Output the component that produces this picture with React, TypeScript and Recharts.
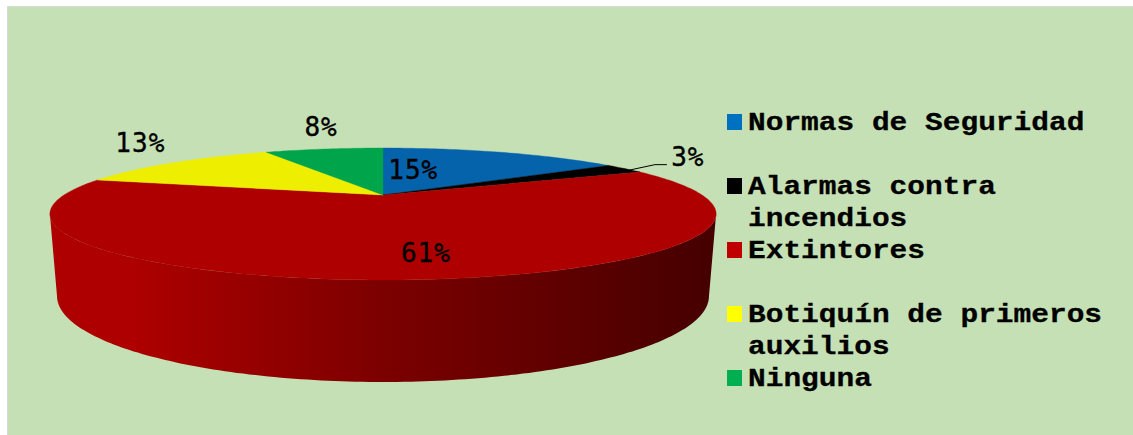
import { PieChart, Pie, Legend } from 'recharts';

const CATEGORIES = ['Normas de Seguridad', 'Alarmas contra incendios', 'Extintores', 'Botiquín de primeros auxilios', 'Ninguna'];
// read from the slice boundaries, the labels show them rounded
const VALUES = [15.4, 2.6, 61.3, 13.1, 7.6];
const SLICE_COLORS = ['#0563AB', '#000000', '#AE0000', '#EEEE00', '#00A44A'];
const LEGEND_COLORS = ['#0070C0', '#000000', '#C00000', '#FFFF00', '#00B050'];

// label position relative to the rim midpoint of each slice
const LABEL_NUDGE = [[-88, 18], [63, -12], [5, -27], [-33, -20], [-3, -22]];

const tableData = CATEGORIES.map((name, i) => ({ name, value: VALUES[i], fill: SLICE_COLORS[i] }));

// the circle seen in perspective: top face and bottom rim of the disc
const TOP = { cy: 195, R: 319, b: 60.5, k: 0.288 };
const BOTTOM = { cy: 274.5, R: 315.6, b: 80.6, k: 0.25 };
type Face = typeof TOP;

function project(face: Face, cx: number, clockDeg: number) {
  const a = (clockDeg * Math.PI) / 180;
  const x = Math.sin(a);
  const y = -Math.cos(a);
  const d = 1 - face.k * y;
  return [cx + (face.R * x) / d, face.cy + (face.b * y) / d];
}

// recharts angles run counter clockwise from 3 o'clock
const toClock = (deg: number) => 90 - deg;
const pt = (p: number[]) => `${p[0].toFixed(1)},${p[1].toFixed(1)}`;

function TopSlice(props: any) {
  const { cx, startAngle, endAngle, fill } = props;
  const from = toClock(startAngle);
  const to = toClock(endAngle);
  const steps = Math.max(2, Math.ceil(Math.abs(to - from)));
  const pts: string[] = [];
  for (let i = 0; i <= steps; i++) pts.push(pt(project(TOP, cx, from + ((to - from) * i) / steps)));
  return <path d={`M${cx},${TOP.cy} L${pts.join(' L')} Z`} fill={fill} stroke={fill} strokeWidth={0.4} />;
}

// side wall, only the part of a slice that faces the viewer
const extreme = (face: Face) => (Math.asin(face.k) * 180) / Math.PI;

function WallSlice(props: any) {
  const { cx, startAngle, endAngle } = props;
  const from = toClock(startAngle);
  const to = toClock(endAngle);
  const topA = 90 + extreme(TOP);
  const topB = 270 - extreme(TOP);
  const botA = 90 + extreme(BOTTOM);
  const botB = 270 - extreme(BOTTOM);
  if (to <= topA || from >= topB) return <g />;
  const s = Math.max(from, topA);
  const e = Math.min(to, topB);
  const upper: string[] = [];
  const lower: string[] = [];
  const steps = 160;
  for (let i = 0; i <= steps; i++) {
    const t = i / steps;
    const u = s + (e - s) * t;
    upper.push(pt(project(TOP, cx, u)));
    const f = (u - topA) / (topB - topA);
    lower.unshift(pt(project(BOTTOM, cx, botA + (botB - botA) * f)));
  }
  return <path d={`M${upper.join(' L')} L${lower.join(' L')} Z`} fill="url(#wallShade)" />;
}

function SliceLabel(props: any) {
  const { cx, midAngle, index, value } = props;
  const rim = project(TOP, cx, toClock(midAngle));
  const [dx, dy] = LABEL_NUDGE[index];
  return (
    <text
      x={rim[0] + dx}
      y={rim[1] + dy}
      textAnchor="middle"
      dominantBaseline="central"
      fill="#000"
      stroke="#000"
      strokeWidth={0.35}
      letterSpacing={1}
      fontFamily="'DejaVu Sans Mono', monospace"
      fontSize={26}
    >
      {`${Math.round(value)}%`}
    </text>
  );
}

function LeaderLine(props: any) {
  const { cx, midAngle, index } = props;
  if (index !== 1) return <g />;
  const rim = project(TOP, cx, toClock(midAngle));
  return <polyline points={`${rim[0] + 2},${rim[1] + 2} ${rim[0] + 30},${rim[1] - 4} ${rim[0] + 42},${rim[1] - 4}`} fill="none" stroke="#000" strokeWidth={1} />;
}

function LegendBlock({ payload }: any) {
  const items = (payload || []).filter((p: any) => p.type !== 'none');
  return (
    <div style={{ fontFamily: "'Liberation Mono', monospace", fontWeight: 700, fontSize: 25, lineHeight: '32.5px', color: '#000' }}>
      {items.map((p: any, i: number) => (
        <div key={p.value} style={{ height: 63.9, position: 'relative' }}>
          <span style={{ position: 'absolute', left: 0, top: 9, width: 15, height: 16, background: LEGEND_COLORS[i] }} />
          <span style={{ position: 'absolute', left: 21, top: 3, width: 310, transform: 'scaleX(1.18)', transformOrigin: 'left top', WebkitTextStroke: '0.3px #000' }}>
            {p.value}
          </span>
        </div>
      ))}
    </div>
  );
}

export default function App() {
  return (
    <div style={{ position: 'fixed', left: 0, top: 0, width: 1133, height: 435, background: '#fff', overflow: 'hidden' }}>
      <div style={{ position: 'absolute', left: 7, top: 6, right: 0, bottom: 0, background: '#C5E0B4', borderLeft: '1px solid #D9D9D9', borderTop: '1px solid #D9D9D9' }} />
      <div style={{ position: 'absolute', left: 0, top: 0 }}>
        <PieChart width={1133} height={435} margin={{ top: 0, right: 0, bottom: 0, left: 0 }}>
          <defs>
            <linearGradient id="wallShade" gradientUnits="userSpaceOnUse" x1={50} y1={0} x2={716} y2={0}>
              <stop offset="0.12" stopColor="#AE0000" />
              <stop offset="0.5" stopColor="#7C0000" />
              <stop offset="1" stopColor="#450000" />
            </linearGradient>
          </defs>
          <Pie
            data={tableData}
            dataKey="value"
            nameKey="name"
            cx={383}
            cy={195}
            outerRadius={319}
            startAngle={90}
            endAngle={-270}
            stroke="none"
            legendType="none"
            shape={WallSlice}
            isAnimationActive={false}
          />
          <Pie
            data={tableData}
            dataKey="value"
            nameKey="name"
            cx={383}
            cy={195}
            outerRadius={319}
            startAngle={90}
            endAngle={-270}
            stroke="none"
            shape={TopSlice}
            label={SliceLabel}
            labelLine={LeaderLine}
            isAnimationActive={false}
          />
          <Legend itemSorter={null} content={LegendBlock} wrapperStyle={{ position: 'absolute', left: 727, top: 105, width: 400 }} />
        </PieChart>
      </div>
    </div>
  );
}
